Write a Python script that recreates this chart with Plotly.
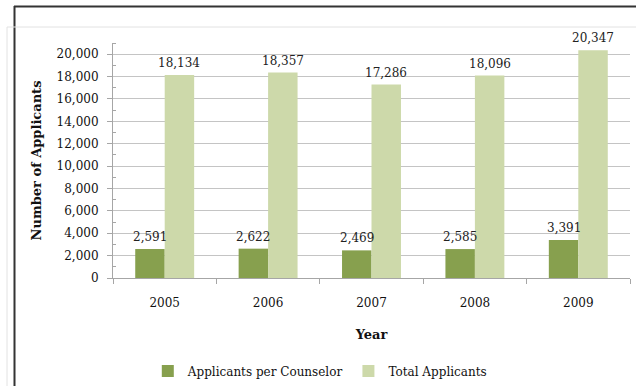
import plotly.graph_objects as go

years = ["2005", "2006", "2007", "2008", "2009"]
per_counselor = [2591, 2622, 2469, 2585, 3391]
total_applicants = [18134, 18357, 17286, 18096, 20347]

DARK = "#87a04e"
LIGHT = "#cdd9aa"
FONT = "DejaVu Serif"

W, H = 636, 386
L, R, T, B = 113, 6, 43, 108
pw, ph = W - L - R, H - T - B
BARGAP = 0.43
# horizontal offset of each bar's centre from its category centre, in px
half_bar = (pw / len(years)) * (1 - BARGAP) / 4


def px(x):
    return (x - L) / pw


def py(y):
    return (H - B - y) / ph


fig = go.Figure()
fig.add_trace(go.Bar(
    x=years, y=per_counselor, name="Applicants per Counselor",
    marker=dict(color=DARK, line=dict(width=0)),
))
fig.add_trace(go.Bar(
    x=years, y=total_applicants, name="Total Applicants",
    marker=dict(color=LIGHT, line=dict(width=0)),
))

# value labels drawn above both series so neither bar hides them
annotations = []
for series, shift in ((per_counselor, -half_bar), (total_applicants, half_bar)):
    for i, v in enumerate(series):
        annotations.append(dict(
            x=i, y=v, xref="x", yref="y", text=f"{v:,}", showarrow=False,
            xanchor="center", yanchor="bottom", xshift=shift, yshift=3,
            font=dict(family=FONT, size=12, color="#222"),
        ))

# outer frame lines
shapes = [
    dict(type="line", xref="paper", yref="paper", x0=px(14), x1=px(W), y0=py(6.5), y1=py(6.5),
         line=dict(color="#333", width=2)),
    dict(type="line", xref="paper", yref="paper", x0=px(14.5), x1=px(14.5), y0=py(6), y1=py(H),
         line=dict(color="#333", width=2)),
    dict(type="line", xref="paper", yref="paper", x0=px(7), x1=px(W), y0=py(27), y1=py(27),
         line=dict(color="#e2e2e2", width=1)),
    dict(type="line", xref="paper", yref="paper", x0=px(7), x1=px(7), y0=py(27), y1=py(H),
         line=dict(color="#e2e2e2", width=1)),
]

fig.update_layout(
    width=W, height=H,
    margin=dict(l=L, r=R, t=T, b=B, autoexpand=False),
    paper_bgcolor="white", plot_bgcolor="white",
    barmode="group", bargap=BARGAP, bargroupgap=0,
    font=dict(family=FONT, size=12, color="#111"),
    showlegend=True,
    legend=dict(orientation="h", x=0.40, xanchor="center", y=py(371), yanchor="middle",
                font=dict(family=FONT, size=12, color="#111"), itemwidth=30),
    shapes=shapes,
    annotations=annotations,
    xaxis=dict(
        type="category", range=[-0.5, len(years) - 0.5],
        tickson="boundaries", ticks="outside", ticklen=5,
        tickcolor="#a6a6a6", showline=True, linecolor="#a6a6a6", linewidth=1,
        showgrid=False, ticklabelstandoff=14,
        title=dict(text="<b>Year</b>", font=dict(family=FONT, size=13), standoff=20),
    ),
    yaxis=dict(
        range=[0, 21000], tickvals=list(range(0, 20001, 2000)), tickformat=",",
        ticks="outside", ticklen=5, tickcolor="#a6a6a6",
        showline=True, linecolor="#a6a6a6", linewidth=1,
        showgrid=True, gridcolor="#c4c4c4", gridwidth=1, zeroline=False,
        minor=dict(tickvals=list(range(1000, 21001, 2000)), ticks="inside", ticklen=3,
                   tickcolor="#a6a6a6", showgrid=False),
        ticklabelstandoff=6,
        title=dict(text="<b>Number of Applicants</b>", font=dict(family=FONT, size=13), standoff=12),
    ),
)

fig.write_html("out.html")
